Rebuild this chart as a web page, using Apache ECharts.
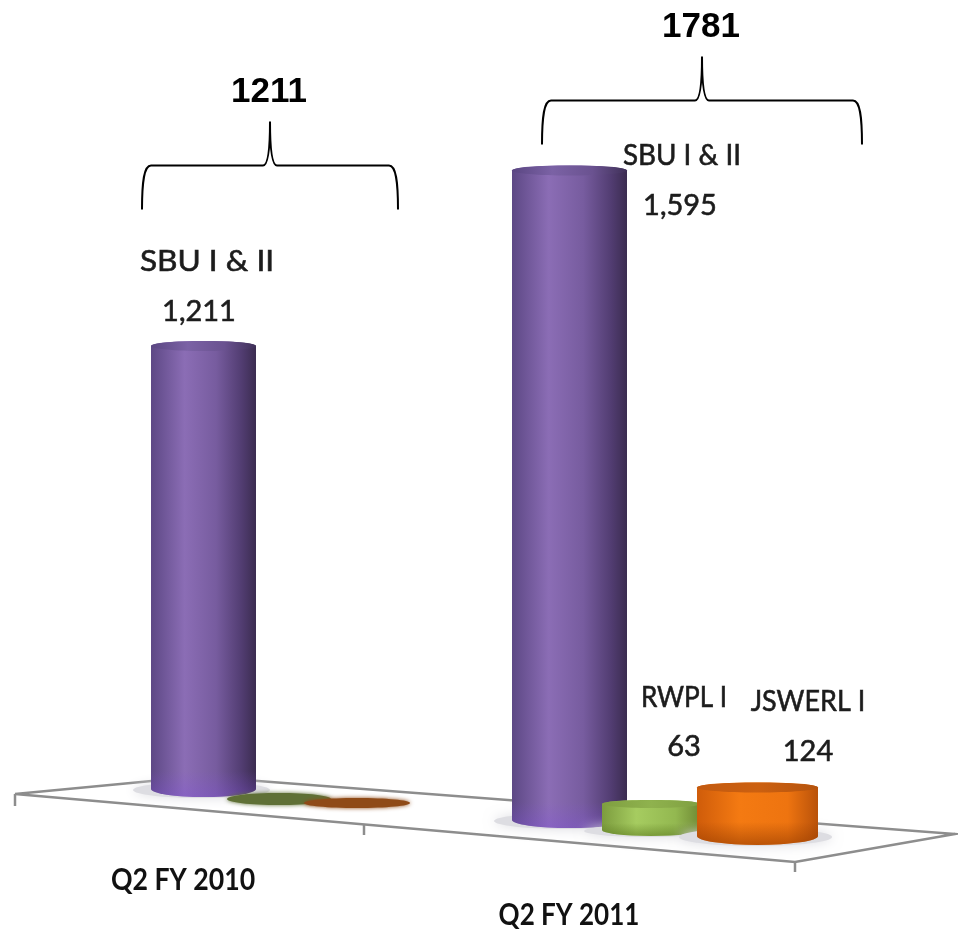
<!DOCTYPE html>
<html><head><meta charset="utf-8">
<style>html,body{margin:0;padding:0;background:#fff}#c{width:958px;height:932px}</style>
<script src="https://cdn.jsdelivr.net/npm/echarts@6/dist/echarts.min.js"></script>
</head><body><div id="c"></div>
<script>
// ---- data ----
const categories = ['Q2 FY 2010', 'Q2 FY 2011'];
const seriesNames = ['SBU I & II', 'RWPL I', 'JSWERL I'];
const sbuValues = [1211, 1595];
const rwplValues = [0, 63];
const jswerlValues = [0, 124];
const groupTotals = [1211, 1781];

// ---- styles and 3D-look layout (pixel offsets from band centre / axis zero) ----
const markLayout = [
  [ {dx:-78.5,w:105,drop:0, k:1.008,ry:8,topRy:5},   {dx:-3,w:104,drop:10,k:1,ry:6,topRy:6},   {dx:75,w:106,drop:14,k:1,ry:5,topRy:5} ],
  [ {dx:-81.5,w:115,drop:31,k:1.122,ry:8,topRy:5},   {dx:0,w:98,drop:41,k:1.14,ry:6,topRy:4},   {dx:106.5,w:121,drop:47,k:1.08,ry:9,topRy:5} ]
];
const labelLayout = [
  [ {nx:-75,ny:262,vx:-83,vy:312,ns:1.09}, null, null ],
  [ {nx:31,ny:156,vx:29,vy:206,ns:0.96}, {nx:33,ny:698,vx:33,vy:747,ns:0.9}, {nx:157,ny:702,vx:157,vy:752,ns:0.93} ]
];
const bodyStops = [
  [[0,'#5d4885'],[0.32,'#8b6db5'],[0.62,'#775c9f'],[0.86,'#523d72'],[1,'#3b2c50']],
  [[0,'#7c9c3e'],[0.35,'#a6cc60'],[0.75,'#93b850'],[1,'#6f8a34']],
  [[0,'#cf5c0a'],[0.35,'#f47a12'],[0.75,'#ee7410'],[1,'#b9520a']]
];
const topStops = [
  [[0,'#5a4682'],[0.35,'#7b62a5'],[0.7,'#6a5290'],[1,'#3f3058']],
  [[0,'#7f9f40'],[0.5,'#8fb24e'],[1,'#7f9f40']],
  [[0,'#c25a10'],[0.5,'#cc6010'],[1,'#b5540e']]
];
const rimColors = ['rgba(130,80,220,0.35)', 'rgba(90,120,30,0.55)', 'rgba(150,60,0,0.6)'];
const flatColors = [null, '#5f7036', '#8f4a17'];
const bracketLayout = [ {dx:-12,hw:128,lift:-228}, {dx:51,hw:160,lift:-86} ];
const catLabelPos = [ {dx:-99,y:880,s:0.86}, {dx:-82,y:915,s:0.84} ];
const labelFont = '29px Lato, "Open Sans", sans-serif';
const catFont = 'bold 31px Lato, "Open Sans", sans-serif';
const totalFont = 'bold 35px "Liberation Sans", Arial, sans-serif';

function gradient(stops){
  return new echarts.graphic.LinearGradient(0,0,1,0,stops.map(s=>({offset:s[0],color:s[1]})));
}
function textEl(text,x,y,font,fill,sx,strokeW){
  return {type:'text',z2:10,x,y,scaleX:sx||1,style:{text,x:0,y:0,align:'center',verticalAlign:'middle',font,fill,stroke:strokeW?fill:null,lineWidth:strokeW||0}};
}
function markRenderer(si){
  return function(params, api){
    const c = api.value(0), v = api.value(1);
    const L = markLayout[c][si];
    const p0 = api.coord([c,0]), p1 = api.coord([c,v]);
    const cx = p0[0]+L.dx, by = p0[1]+L.drop, ty = by-(p0[1]-p1[1])*L.k;
    const rx = L.w/2, ry = L.ry, tr = L.topRy;
    const kids = [];
    if (v <= 0) {
      kids.push({type:'ellipse',shape:{cx,cy:by,rx,ry},style:{fill:flatColors[si],shadowBlur:4,shadowColor:flatColors[si]}});
      return {type:'group',children:kids};
    }
    kids.push({type:'ellipse',shape:{cx:cx-2,cy:by+1,rx:rx+16,ry:ry},style:{fill:'#dddde2',shadowBlur:12,shadowColor:'#dddde2'}});
    const d = `M${cx-rx} ${ty} L${cx-rx} ${by} A${rx} ${ry} 0 0 0 ${cx+rx} ${by} L${cx+rx} ${ty} A${rx} ${tr} 0 0 0 ${cx-rx} ${ty} Z`;
    kids.push({type:'path',shape:{pathData:d},style:{fill:gradient(bodyStops[si])}});
    const rimH = Math.min(26,(by+ry-ty)*0.4);
    const rimTop = by+ry-rimH;
    const rim = `M${cx-rx} ${rimTop} L${cx-rx} ${by} A${rx} ${ry} 0 0 0 ${cx+rx} ${by} L${cx+rx} ${rimTop} Z`;
    kids.push({type:'path',shape:{pathData:rim},style:{fill:new echarts.graphic.LinearGradient(0,0,0,1,[{offset:0,color:rimColors[si].replace(/[\d.]+\)$/,'0)')},{offset:1,color:rimColors[si]}])}});
    kids.push({type:'ellipse',shape:{cx,cy:ty,rx,ry:tr},style:{fill:gradient(topStops[si])}});
    const T = labelLayout[c][si];
    if (T) {
      kids.push(textEl(seriesNames[si],p0[0]+T.nx,T.ny,labelFont,'#1c1c1c',T.ns,0.6));
      kids.push(textEl(v.toLocaleString('en-US'),p0[0]+T.vx,T.vy,labelFont,'#1c1c1c',1,0.6));
    }
    return {type:'group',children:kids};
  };
}
function floorRenderer(params, api){
  // floor plate hangs off the category band edges
  const o = api.coord([0,0]), band = api.size([1,0])[0];
  const e0 = o[0]-band/2, e2 = o[0]+band*1.5, y0 = o[1];
  const left=[e0-82.5,y0+5], back=[e0+101.5,y0-12.5], right=[e2+119.5,y0+45], front=[e2-40.5,y0+73];
  const mid=[e0+266.5,y0+35];
  const stroke='#8d8d8d';
  const tick=(p,h)=>({type:'line',shape:{x1:p[0],y1:p[1],x2:p[0],y2:p[1]+h},style:{stroke,lineWidth:2.5}});
  return {type:'group',children:[
    {type:'polygon',shape:{points:[left,back,right,front]},style:{fill:'#ffffff',stroke,lineWidth:2.5,lineJoin:'miter'}},
    tick(left,12),tick(mid,11),tick(front,10)
  ]};
}
function annotationRenderer(params, api){
  const c = api.value(0), v = api.value(1);
  const p = api.coord([c,v]), L = bracketLayout[c];
  const x = p[0]+L.dx, apex = p[1]+L.lift, hw = L.hw;
  const flat = apex+44, end = apex+88;
  const d = `M${x-hw} ${end} C${x-hw} ${flat+16} ${x-hw+2} ${flat} ${x-hw+9} ${flat} L${x-7} ${flat} C${x-2} ${flat} ${x} ${flat-16} ${x} ${apex} C${x} ${flat-16} ${x+2} ${flat} ${x+7} ${flat} L${x+hw-9} ${flat} C${x+hw-2} ${flat} ${x+hw} ${flat+16} ${x+hw} ${end}`;
  const CP = catLabelPos[c];
  return {type:'group',children:[
    {type:'path',shape:{pathData:d},style:{fill:null,stroke:'#000',lineWidth:2}},
    textEl(String(v),x-1,apex-29,totalFont,'#000'),
    textEl(categories[c],p[0]+CP.dx,CP.y,catFont,'#111',CP.s)
  ]};
}
const rows = a => a.map((v,i)=>[i,v]);
const chart = echarts.init(document.getElementById('c'),null,{renderer:'canvas'});
chart.setOption({
  animation:false,
  backgroundColor:'#ffffff',
  grid:{left:97.5,width:738,top:63,bottom:143},
  xAxis:{type:'category',data:categories,show:false},
  yAxis:{type:'value',min:0,max:2000,show:false},
  series:[
    {type:'custom',name:'floor',z:1,clip:false,renderItem:floorRenderer,data:[[0,0]],encode:{x:0,y:1},silent:true},
    {type:'custom',name:seriesNames[0],z:2,clip:false,renderItem:markRenderer(0),data:rows(sbuValues),encode:{x:0,y:1}},
    {type:'custom',name:seriesNames[1],z:3,clip:false,renderItem:markRenderer(1),data:rows(rwplValues),encode:{x:0,y:1}},
    {type:'custom',name:seriesNames[2],z:4,clip:false,renderItem:markRenderer(2),data:rows(jswerlValues),encode:{x:0,y:1}},
    {type:'custom',name:'totals',z:5,clip:false,renderItem:annotationRenderer,data:rows(groupTotals),encode:{x:0,y:1}}
  ]
});
</script></body></html>
